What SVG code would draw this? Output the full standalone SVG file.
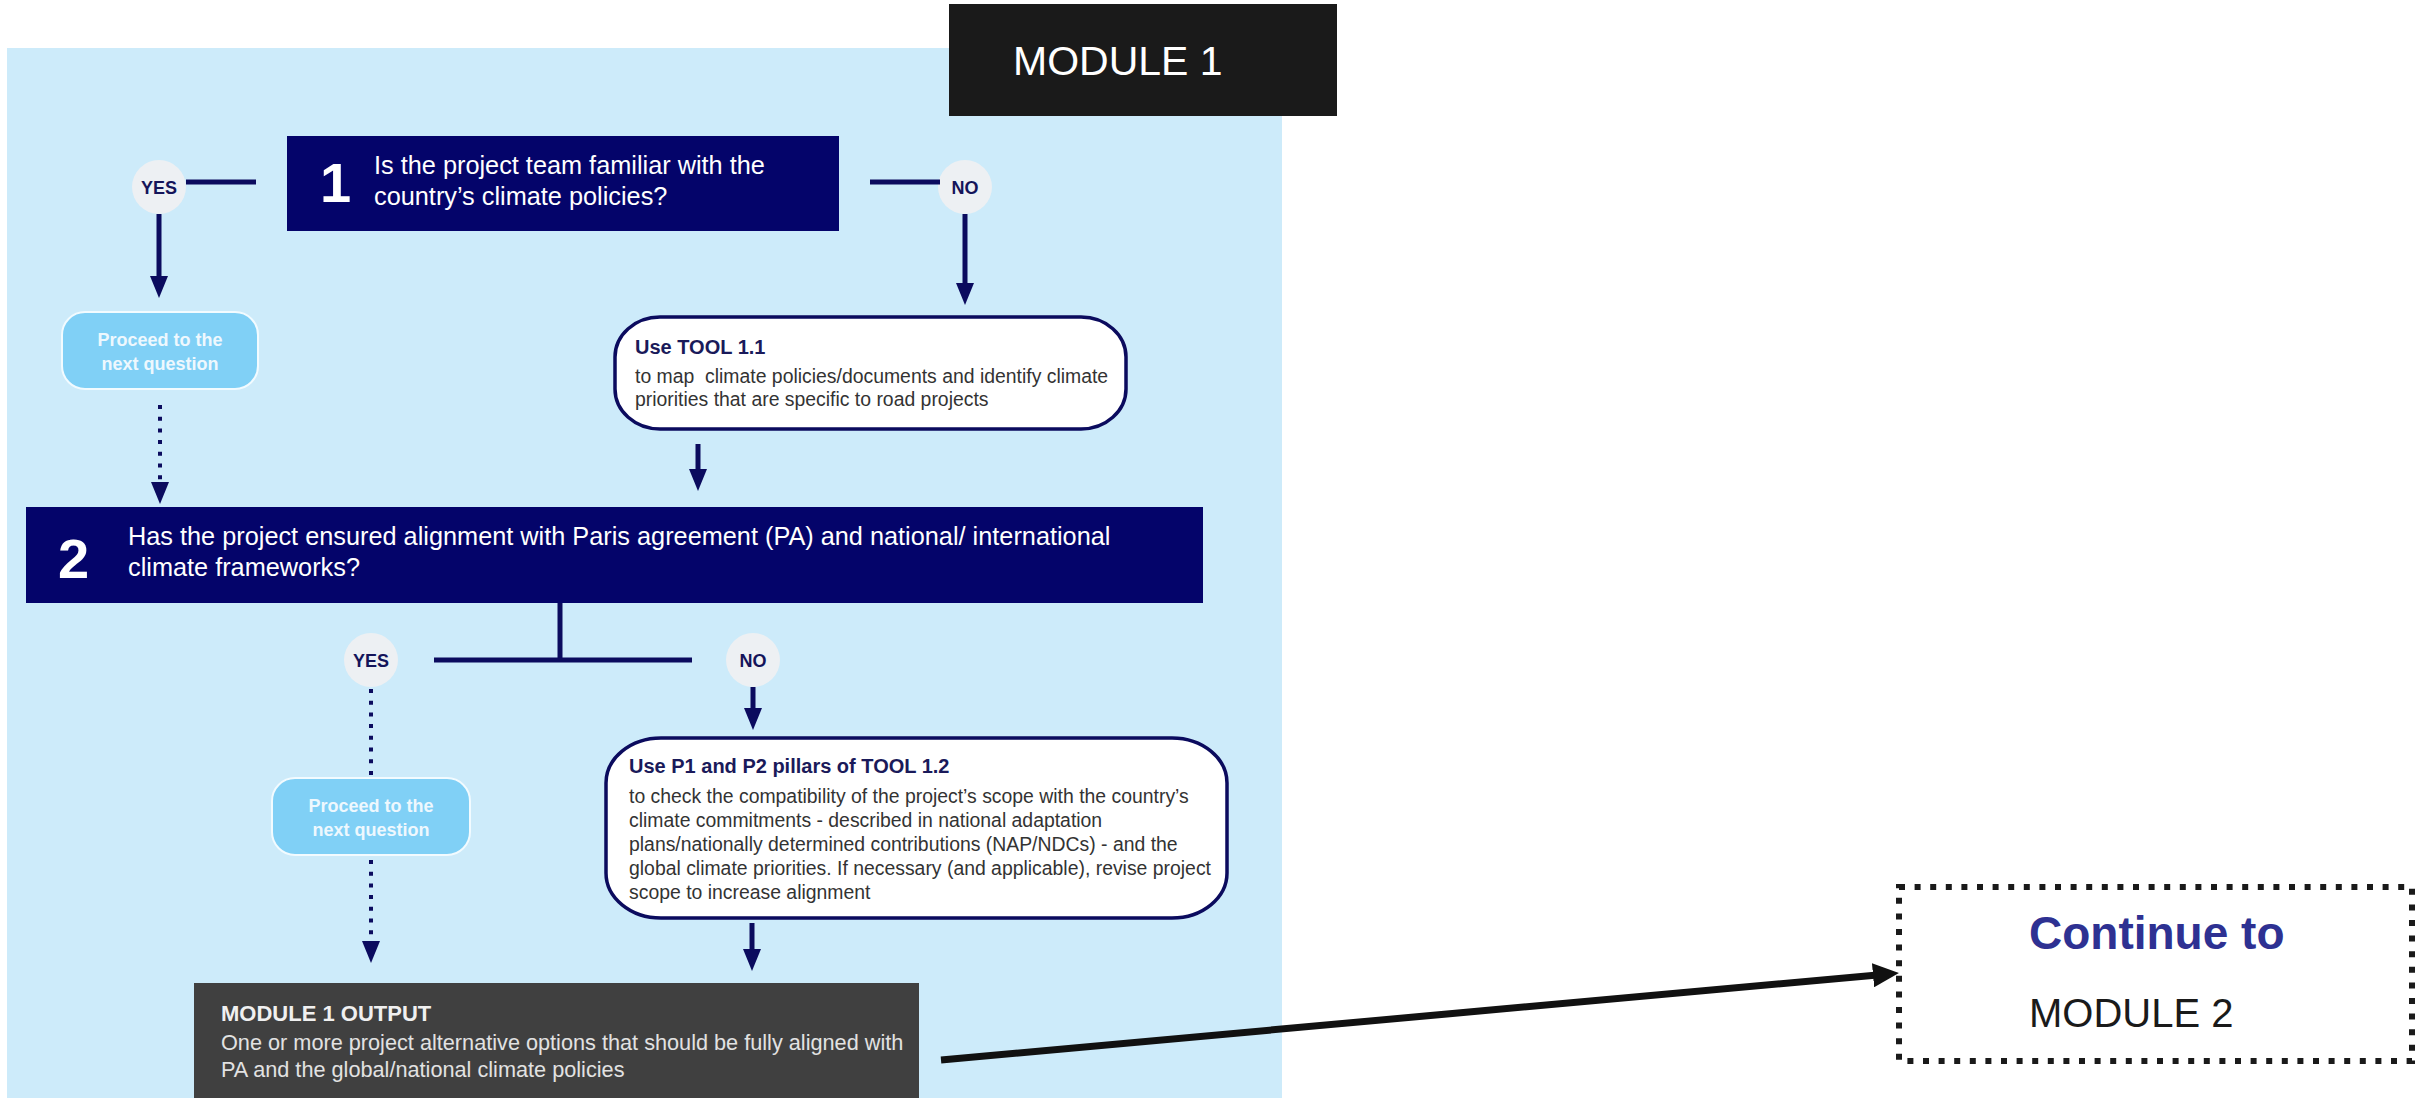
<svg xmlns="http://www.w3.org/2000/svg" width="2425" height="1098" viewBox="0 0 2425 1098">
<style>
text{font-family:"Liberation Sans",Arial,sans-serif}
.q{fill:#04046a}
.qt{font-size:25.3px;fill:#ffffff}
.num{font-size:56px;font-weight:bold;fill:#ffffff}
.circ{fill:#edf0f3}
.yn{font-size:18px;font-weight:bold;fill:#14145a;text-anchor:middle}
.proc{fill:#80d0f6;stroke:#f2fbff;stroke-width:2}
.pt{font-size:18px;font-weight:bold;fill:#eef8fe;text-anchor:middle}
.tool{fill:#ffffff;stroke:#0b0b5e;stroke-width:3.5}
.th{font-size:20px;font-weight:bold;fill:#1a1a5a}
.tb{font-size:19.4px;fill:#333333;white-space:pre}
.nv{stroke:#0b0b5e;stroke-width:5;fill:none}
.dot{stroke-width:4;stroke-dasharray:4 7.7}
</style>
<defs>
<marker id="ah" markerUnits="userSpaceOnUse" markerWidth="22" markerHeight="18" viewBox="0 0 22 18" refX="8" refY="9" orient="auto"><path d="M0,0 L22,9 L0,18 z" fill="#0b0b5e"/></marker>
<marker id="ahk" markerUnits="userSpaceOnUse" markerWidth="26" markerHeight="24" viewBox="0 0 26 24" refX="10" refY="12" orient="auto"><path d="M0,0 L26,12 L0,24 z" fill="#111111"/></marker>
</defs>
<rect x="0" y="0" width="2425" height="1098" fill="#ffffff"/>
<rect id="panel" x="7" y="48" width="1275" height="1050" fill="#cdebfa"/>

<g id="module1-header">
<rect x="949" y="4" width="388" height="112" fill="#1a1a1a"/>
<text x="1013" y="75" font-size="41" fill="#ffffff">MODULE 1</text>
</g>

<g id="q1">
<rect class="q" x="287" y="136" width="552" height="95"/>
<text class="num" x="320" y="202">1</text>
<text class="qt" x="374" y="174">Is the project team familiar with the</text>
<text class="qt" x="374" y="205">country’s climate policies?</text>
</g>

<g id="yes1"><circle class="circ" cx="159" cy="187" r="27"/><text class="yn" x="159" y="193.5">YES</text></g>
<g id="no1"><circle class="circ" cx="965" cy="187" r="27"/><text class="yn" x="965" y="193.5">NO</text></g>

<g id="proceed1">
<rect class="proc" x="62" y="312" width="196" height="77" rx="23"/>
<text class="pt" x="160" y="346">Proceed to the</text>
<text class="pt" x="160" y="370">next question</text>
</g>

<g id="tool11">
<rect class="tool" x="615" y="317" width="511" height="112" rx="45" ry="40"/>
<text class="th" x="635" y="354">Use TOOL 1.1</text>
<text class="tb" x="635" y="383">to map  climate policies/documents and identify climate</text>
<text class="tb" x="635" y="406">priorities that are specific to road projects</text>
</g>

<g id="q2">
<rect class="q" x="26" y="507" width="1177" height="96"/>
<text class="num" x="58" y="578">2</text>
<text class="qt" x="128" y="545">Has the project ensured alignment with Paris agreement (PA) and national/ international</text>
<text class="qt" x="128" y="576">climate frameworks?</text>
</g>

<g id="yes2"><circle class="circ" cx="371" cy="660" r="27"/><text class="yn" x="371" y="666.5">YES</text></g>
<g id="no2"><circle class="circ" cx="753" cy="660" r="27"/><text class="yn" x="753" y="666.5">NO</text></g>

<g id="proceed2">
<rect class="proc" x="272" y="778" width="198" height="77" rx="23"/>
<text class="pt" x="371" y="812">Proceed to the</text>
<text class="pt" x="371" y="836">next question</text>
</g>

<g id="tool12">
<rect class="tool" x="606" y="738" width="621" height="180" rx="55" ry="45"/>
<text class="th" x="629" y="773">Use P1 and P2 pillars of TOOL 1.2</text>
<text class="tb" x="629" y="803">to check the compatibility of the project’s scope with the country’s</text>
<text class="tb" x="629" y="827">climate commitments - described in national adaptation</text>
<text class="tb" x="629" y="851">plans/nationally determined contributions (NAP/NDCs) - and the</text>
<text class="tb" x="629" y="875">global climate priorities. If necessary (and applicable), revise project</text>
<text class="tb" x="629" y="899">scope to increase alignment</text>
</g>

<g id="output">
<rect x="194" y="983" width="725" height="115" fill="#404040"/>
<text x="221" y="1021" font-size="22" font-weight="bold" fill="#f0f0f0">MODULE 1 OUTPUT</text>
<text x="221" y="1050" font-size="21.7" fill="#e2e2e2">One or more project alternative options that should be fully aligned with</text>
<text x="221" y="1077" font-size="21.7" fill="#e2e2e2">PA and the global/national climate policies</text>
</g>

<g id="continue">
<rect x="1899" y="887" width="513" height="174" fill="none" stroke="#1a1a1a" stroke-width="6" stroke-dasharray="6 9.6"/>
<text x="2029" y="949" font-size="46" font-weight="bold" fill="#2e3192">Continue to</text>
<text x="2029" y="1027" font-size="40" fill="#1a1a1a">MODULE 2</text>
</g>

<g id="connectors">
<line class="nv" x1="186" y1="182" x2="256" y2="182"/>
<line class="nv" x1="870" y1="182" x2="940" y2="182"/>
<line class="nv" x1="159" y1="214" x2="159" y2="284" marker-end="url(#ah)"/>
<line class="nv" x1="965" y1="214" x2="965" y2="291" marker-end="url(#ah)"/>
<line class="nv dot" x1="160" y1="405" x2="160" y2="490" marker-end="url(#ah)"/>
<line class="nv" x1="698" y1="444" x2="698" y2="477" marker-end="url(#ah)"/>
<line class="nv" x1="560" y1="603" x2="560" y2="660"/>
<line class="nv" x1="434" y1="660" x2="692" y2="660"/>
<line class="nv" x1="753" y1="687" x2="753" y2="716" marker-end="url(#ah)"/>
<line class="nv dot" x1="371" y1="689" x2="371" y2="775"/>
<line class="nv dot" x1="371" y1="860" x2="371" y2="949" marker-end="url(#ah)"/>
<line class="nv" x1="752" y1="923" x2="752" y2="957" marker-end="url(#ah)"/>
<line x1="941" y1="1060" x2="1883" y2="974.4" stroke="#111111" stroke-width="7" marker-end="url(#ahk)"/>
</g>
</svg>
